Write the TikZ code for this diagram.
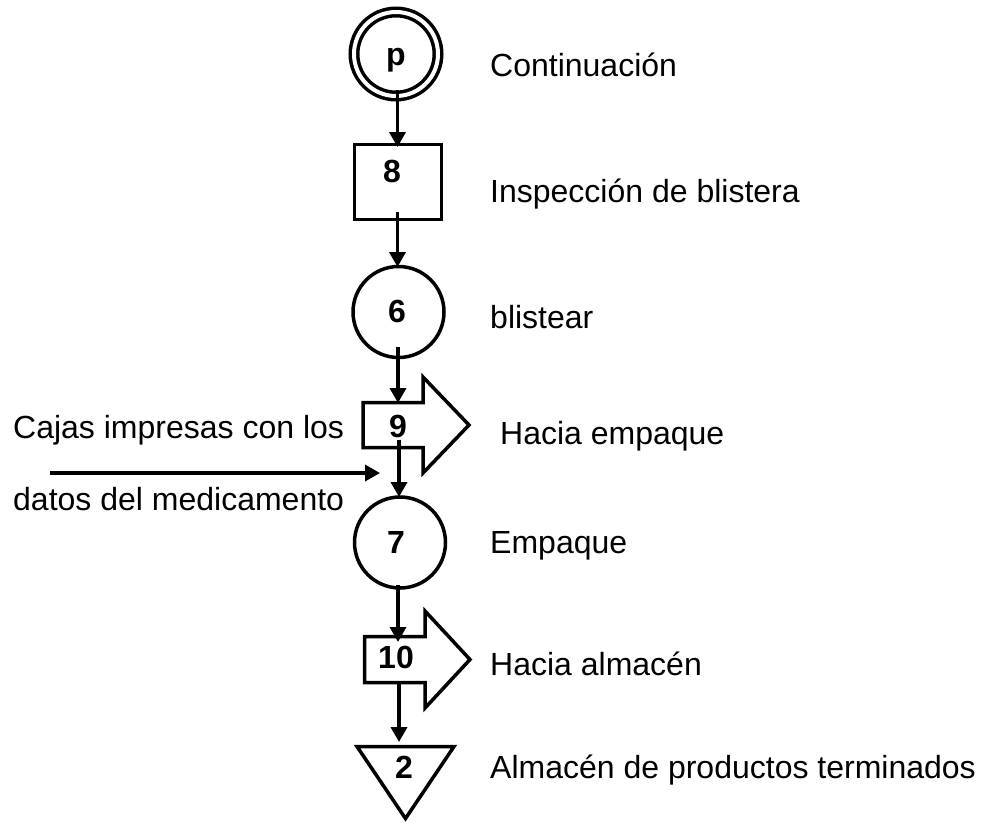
\documentclass[tikz,border=0pt]{standalone}
\usepackage{fontspec}
\setmainfont{Liberation Sans}
\usetikzlibrary{arrows.meta}
\begin{document}
\begin{tikzpicture}[x=1pt,y=-1pt,
  shp/.style={draw,line width=3.5pt,fill=white,inner sep=0pt,outer sep=0pt},
  box/.style={inner sep=0pt,outer sep=0pt},
  outl/.style={draw,line width=3.5pt,fill=white,line join=miter},
  conn/.style={line width=3.5pt,-{Triangle[length=15pt,width=16pt]}},
  lbl/.style={anchor=base west,inner sep=0pt,font=\fontsize{32}{38}\selectfont},
  num/.style={anchor=base,inner sep=0pt,font=\fontsize{32}{38}\selectfont\bfseries}]
\useasboundingbox (0,0) rectangle (984,825);
% shapes
\node[shp,circle,double,double distance=4pt,minimum size=84pt] (p) at (396,54) {};
\node[shp,minimum width=87pt,minimum height=75pt] (r8) at (398,182) {};
\node[shp,circle,minimum size=91pt] (c6) at (398.5,312) {};
\node[box,minimum width=60pt,minimum height=45pt] (a9) at (393,425) {};
\draw[outl] (a9.north west) -- (a9.north east) -- ++(0,-25.5) -- ([xshift=46pt]a9.east)
  -- ([yshift=-25.5pt]a9.south east) -- (a9.south east) -- (a9.south west) -- cycle;
\node[shp,circle,minimum size=91pt] (c7) at (400,542.5) {};
\node[box,minimum width=60.5pt,minimum height=46pt] (a10) at (394.75,659.5) {};
\draw[outl] (a10.north west) -- (a10.north east) -- ++(0,-25.5) -- ([xshift=45pt]a10.east)
  -- ([yshift=-25.5pt]a10.south east) -- (a10.south east) -- (a10.south west) -- cycle;
\node[box,minimum width=97pt,minimum height=72pt] (t2) at (405.5,782.5) {};
\draw[outl] (t2.north west) -- (t2.north east) -- (t2.south) -- cycle;
% numbers
\node[num] (np) at (396,65) {p};
\node[num] (n8) at (392,182.5) {8};
\node[num] (n6) at (397,322) {6};
\node[num] (n9) at (398,437) {9};
\node[num] (n7) at (396,553) {7};
\node[num] (n10) at (396,668) {10};
\node[num] (n2) at (404,778) {2};
% connectors
\draw[conn] ([shift={(1.5,36)}]p.center) -- ([shift={(-0.5,2.5)}]r8.north);
\draw[conn] ([shift={(-0.5,30)}]r8.center) -- ([shift={(-1,0.5)}]c6.north);
\draw[conn] ([shift={(-0.5,35)}]c6.center) -- ([shift={(5,0.5)}]a9.north);
\draw[conn] ([shift={(6,15)}]a9.center) -- ([shift={(-1,0)}]c7.north);
\draw[conn] ([shift={(-2,42.5)}]c7.center) -- ([shift={(3.25,5.5)}]a10.north);
\draw[conn] ([shift={(4.25,0)}]a10.south) -- ([shift={(-6.5,-4.5)}]t2.north);
\coordinate (hs) at (50,473);
\coordinate (he) at (380,473);
\draw[conn] (hs) -- (he);
% labels
\node[lbl] (l1) at (490,76) {Continuación};
\node[lbl] (l2) at (490,202) {Inspección de blistera};
\node[lbl] (l3) at (490,328) {blistear};
\node[lbl] (l4) at (500,444) {Hacia empaque};
\node[lbl] (l5) at (490,553) {Empaque};
\node[lbl] (l6) at (490,675) {Hacia almacén};
\node[lbl] (l7) at (490,778) {Almacén de productos terminados};
\node[lbl] (l8) at (13,438) {Cajas impresas con los};
\node[lbl] (l9) at (13,510) {datos del medicamento};
\end{tikzpicture}
\end{document}
